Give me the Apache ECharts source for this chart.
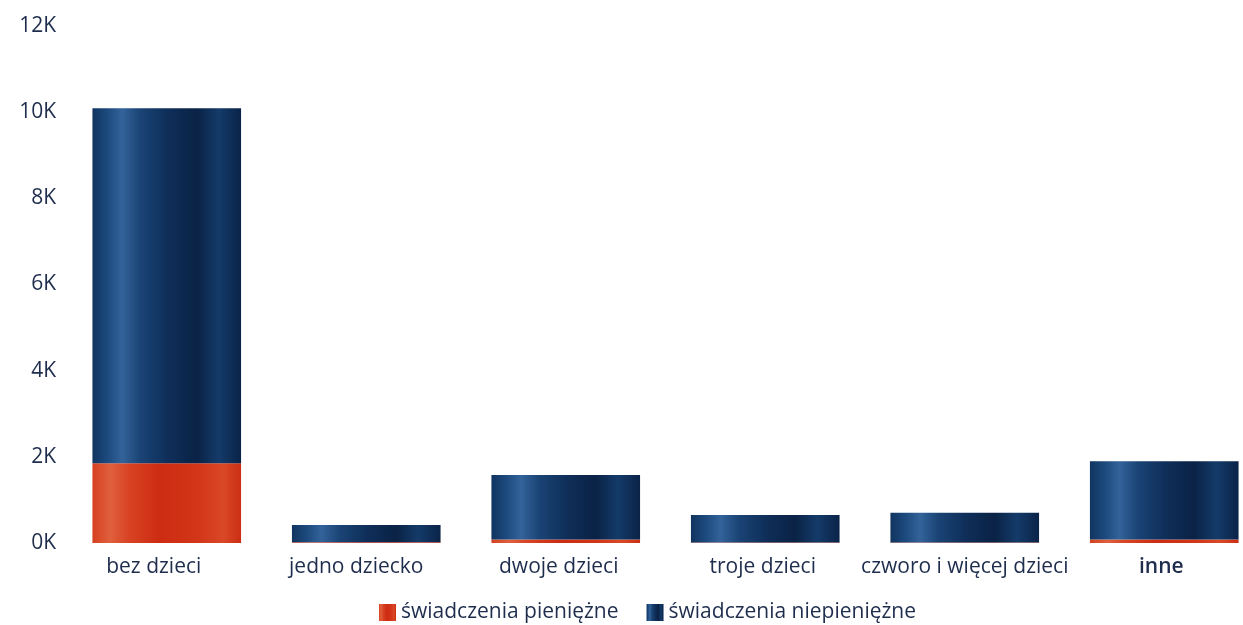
<!DOCTYPE html>
<html>
<head>
<meta charset="utf-8">
<script src="https://cdn.jsdelivr.net/npm/echarts@6/dist/echarts.min.js"></script>
<style>
html,body{margin:0;padding:0;background:#fff;}
#c{width:1243px;height:625px;}
</style>
</head>
<body>
<div id="c"></div>
<script>
const categories = ['bez dzieci', 'jedno dziecko', 'dwoje dzieci', 'troje dzieci', 'czworo i więcej dzieci', 'inne'];
const seriesNames = ['świadczenia pieniężne', 'świadczenia niepieniężne'];
const pieniezne = [1850, 20, 80, 10, 10, 80];
const niepieniezne = [8240, 400, 1500, 640, 690, 1820];
const yTicks = [0, 2000, 4000, 6000, 8000, 10000, 12000];

// spacer widths (px) that nudge category labels left, as in the reference
const labelNudge = [26, 20, 14, 5, 0, 6];

const redGrad = new echarts.graphic.LinearGradient(0, 0, 1, 0, [
  {offset: 0, color: '#d6401f'},
  {offset: 0.12, color: '#e0603d'},
  {offset: 0.24, color: '#d84424'},
  {offset: 0.45, color: '#cd2c12'},
  {offset: 0.7, color: '#d23518'},
  {offset: 0.88, color: '#d94826'},
  {offset: 1, color: '#cb2e14'}
]);
const blueGrad = new echarts.graphic.LinearGradient(0, 0, 1, 0, [
  {offset: 0, color: '#10345f'},
  {offset: 0.1, color: '#1d4a7e'},
  {offset: 0.2, color: '#33639a'},
  {offset: 0.32, color: '#1a4475'},
  {offset: 0.5, color: '#0f2f5a'},
  {offset: 0.7, color: '#0a2245'},
  {offset: 0.85, color: '#143b69'},
  {offset: 1, color: '#0a2348'}
]);

const rich = {b: {fontSize: 21, fontWeight: 600, color: '#1f2d4d', fontFamily: 'Open Sans'}};
labelNudge.forEach(function (w, i) { rich['s' + i] = {width: w}; });

const chart = echarts.init(document.getElementById('c'));
chart.setOption({
  animation: false,
  textStyle: {fontFamily: 'Open Sans'},
  grid: {left: 67, top: 26, width: 1197, bottom: 82, containLabel: false, outerBoundsMode: 'none'},
  legend: {
    data: seriesNames,
    top: 597,
    left: 374,
    icon: 'rect',
    itemWidth: 17,
    itemHeight: 17,
    itemGap: 28,
    textStyle: {fontSize: 21, color: '#1f2d4d', fontFamily: 'Open Sans'}
  },
  xAxis: {
    type: 'category',
    data: categories,
    axisLine: {show: false},
    axisTick: {show: false},
    axisLabel: {
      interval: 0,
      fontSize: 21,
      color: '#1f2d4d',
      margin: 14,
      rich: rich,
      formatter: function (v) {
        const i = categories.indexOf(v);
        const t = v === 'inne' ? '{b|' + v + '}' : v;
        return labelNudge[i] ? t + '{s' + i + '|}' : t;
      }
    }
  },
  yAxis: {
    type: 'value',
    min: 0,
    max: yTicks[yTicks.length - 1],
    interval: 2000,
    splitLine: {show: false},
    axisLine: {show: false},
    axisTick: {show: false},
    axisLabel: {
      fontSize: 21,
      color: '#1f2d4d',
      align: 'right',
      margin: 11,
      formatter: function (v) { return (v / 1000) + 'K'; }
    }
  },
  series: [
    {
      name: seriesNames[0],
      type: 'bar',
      stack: 's',
      barWidth: '74.5%',
      data: pieniezne,
      itemStyle: {color: redGrad}
    },
    {
      name: seriesNames[1],
      type: 'bar',
      stack: 's',
      barWidth: '74.5%',
      data: niepieniezne,
      itemStyle: {color: blueGrad}
    }
  ]
});
</script>
</body>
</html>
